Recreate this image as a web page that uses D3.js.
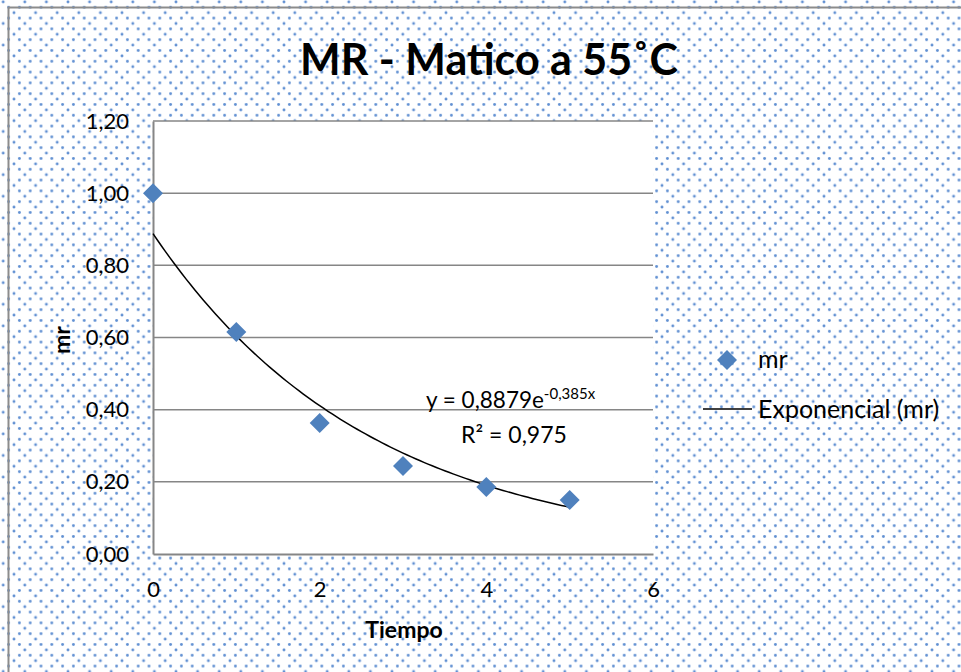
<!DOCTYPE html>
<html>
<head>
<meta charset="utf-8">
<script src="https://cdn.jsdelivr.net/npm/d3@7"></script>
<style>
  body { margin: 0; background: #fff; }
  svg { display: block; font-family: Lato, "Open Sans", sans-serif; }
</style>
</head>
<body>
<div id="chart"></div>
<script>
// data
var tiempo = [0, 1, 2, 3, 4, 5];
var mr = [1.00, 0.615, 0.363, 0.244, 0.186, 0.150];
var yTicks = [0, 0.2, 0.4, 0.6, 0.8, 1.0, 1.2];
var xTicks = [0, 2, 4, 6];
// exponential trendline shown on the chart: y = 0,8879e^(-0,385x)
var fitA = 0.8879, fitB = -0.385;

var W = 961, H = 672;
var margin = {top: 121, left: 153},
    width = 500,
    height = 433;

var fmt = function(d) { return d3.format(".2f")(d).replace(".", ","); };

var x = d3.scaleLinear().domain([0, 6]).range([0, width]);
var y = d3.scaleLinear().domain([0, 1.2]).range([height, 0]);

var svg = d3.select("#chart").append("svg")
    .attr("width", W)
    .attr("height", H);

// dotted background pattern
var pat = svg.append("defs").append("pattern")
    .attr("id", "dots")
    .attr("patternUnits", "userSpaceOnUse")
    .attr("x", 14).attr("y", 12.7)
    .attr("width", 21.6).attr("height", 21.6);
[[0, 0], [21.6, 0], [0, 21.6], [21.6, 21.6], [10.8, 10.8],
 [5.4, 5.4], [16.2, 5.4], [5.4, 16.2], [16.2, 16.2]].forEach(function(p) {
  pat.append("circle").attr("cx", p[0]).attr("cy", p[1]).attr("r", 1.45)
    .attr("fill", "#6190d2");
});

svg.append("rect").attr("width", W).attr("height", H).attr("fill", "url(#dots)");
svg.append("rect")
    .attr("x", 8.5).attr("y", 7.5)
    .attr("width", W + 10).attr("height", H + 10)
    .attr("fill", "none").attr("stroke", "#8c8c8c").attr("stroke-width", 2);

// title
svg.append("text")
    .attr("x", 489).attr("y", 75)
    .attr("text-anchor", "middle")
    .style("font-size", "43px").style("font-weight", "bold")
    .text("MR - Matico a 55˚C");

var g = svg.append("g")
    .attr("transform", "translate(" + margin.left + "," + margin.top + ")");

g.append("rect").attr("width", width).attr("height", height).attr("fill", "#fff");

// gridlines
g.selectAll(".grid").data(yTicks.slice(1)).enter().append("line")
    .attr("x1", 0).attr("x2", width)
    .attr("y1", function(d) { return y(d); })
    .attr("y2", function(d) { return y(d); })
    .attr("stroke", "#868686").attr("stroke-width", 1.5);

// axes
var yAxis = g.append("g")
    .call(d3.axisLeft(y).tickValues(yTicks).tickFormat(fmt).tickSize(0).tickPadding(24));
var xAxis = g.append("g")
    .attr("transform", "translate(0," + height + ")")
    .call(d3.axisBottom(x).tickValues(xTicks).tickFormat(d3.format("d")).tickSize(0).tickPadding(27));
[yAxis, xAxis].forEach(function(a) {
  a.select(".domain").attr("stroke", "#868686").attr("stroke-width", 2);
  a.selectAll("text").style("font-size", "22px").style("font-family", "Lato, sans-serif")
    .attr("fill", "#000");
});
xAxis.selectAll("text").attr("dy", "0.71em");

// trendline
var xs = d3.range(0, 5.001, 0.05);
var line = d3.line()
    .x(function(d) { return x(d); })
    .y(function(d) { return y(fitA * Math.exp(fitB * d)); });
g.append("path")
    .datum(xs)
    .attr("d", line)
    .attr("fill", "none")
    .attr("stroke", "#000")
    .attr("stroke-width", 1.5);

// points
var diamond = d3.symbol().type(d3.symbolDiamond2).size(255);
g.selectAll(".pt").data(tiempo).enter().append("path")
    .attr("d", diamond)
    .attr("transform", function(d, i) {
      return "translate(" + x(d) + "," + y(mr[i]) + ")";
    })
    .attr("fill", "#4f81bd");

// equation labels
var eq = svg.append("text")
    .attr("x", 426).attr("y", 408)
    .style("font-size", "22.5px");
eq.append("tspan").text("y = 0,8879e");
eq.append("tspan").attr("dy", -9).style("font-size", "15px").text("-0,385x");
svg.append("text")
    .attr("x", 514).attr("y", 443)
    .attr("text-anchor", "middle")
    .style("font-size", "23px")
    .text("R² = 0,975");

// axis titles
svg.append("text")
    .attr("x", 404).attr("y", 638)
    .attr("text-anchor", "middle")
    .style("font-size", "23px").style("font-weight", "bold")
    .text("Tiempo");
svg.append("text")
    .attr("transform", "translate(70,340) rotate(-90)")
    .attr("text-anchor", "middle")
    .style("font-size", "23px").style("font-weight", "bold")
    .text("mr");

// legend
svg.append("path")
    .attr("d", diamond)
    .attr("transform", "translate(727,360)")
    .attr("fill", "#4f81bd");
svg.append("text").attr("x", 758).attr("y", 368)
    .style("font-size", "25px").text("mr");
svg.append("line")
    .attr("x1", 703).attr("x2", 752).attr("y1", 409).attr("y2", 409)
    .attr("stroke", "#000").attr("stroke-width", 1.5);
svg.append("text").attr("x", 758).attr("y", 418)
    .style("font-size", "25px").text("Exponencial (mr)");
</script>
</body>
</html>
